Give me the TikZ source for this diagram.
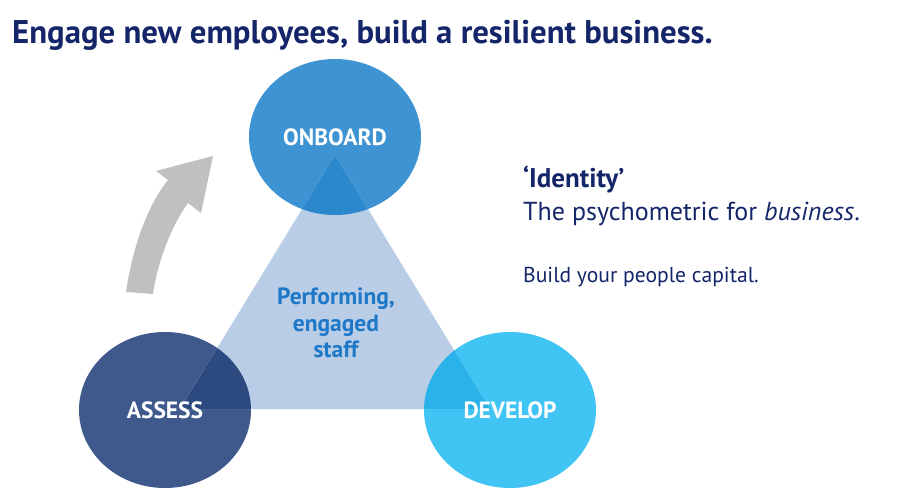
\documentclass[tikz,border=0pt]{standalone}
\usepackage{fontspec}
\setmainfont{PT Sans}
\usetikzlibrary{shapes.geometric}
\definecolor{navy}{RGB}{20,38,105}
\definecolor{onbblue}{RGB}{62,148,210}
\definecolor{onbdark}{RGB}{43,136,204}
\definecolor{assblue}{RGB}{63,89,140}
\definecolor{assdark}{RGB}{44,73,128}
\definecolor{devblue}{RGB}{64,196,243}
\definecolor{devdark}{RGB}{42,179,234}
\definecolor{triblue}{RGB}{185,205,230}
\definecolor{staffblue}{RGB}{30,120,200}
\definecolor{arrowgray}{RGB}{192,192,192}

\begin{document}
\begin{tikzpicture}[x=1pt,y=-1pt,
    phase/.style={ellipse,minimum width=172pt,minimum height=156pt,inner sep=0pt},
    phaselabel/.style={text=white,font=\fontsize{23.5}{26}\selectfont\bfseries},
    every node/.style={inner sep=0pt}
  ]
  \useasboundingbox (0,0) rectangle (900,500);
  \fill[white] (0,0) rectangle (900,500);

  \node[anchor=base west,text=navy,font=\fontsize{32.8}{36}\selectfont\bfseries] (title) at (12,44)
    {Engage new employees, build a resilient business.};

  % curved arrow
  \fill[arrowgray] (126,292) .. controls (133,245) and (148,205) .. (168,180)
    -- (156,171) -- (213,156) -- (201,213) -- (188,203)
    .. controls (172,225) and (158,260) .. (153,294) -- cycle;

  \coordinate (apex) at (335,155);
  \coordinate (baseL) at (180,409);
  \coordinate (baseR) at (490,409);

  \node[phase,fill=onbblue] (onboard) at (335,137) {};
  \node[phase,fill=assblue] (assess) at (165,410) {};
  \node[phase,fill=devblue] (develop) at (510,410) {};

  \fill[triblue] (apex) -- (baseL) -- (baseR) -- cycle;
  \foreach \c/\col in {onboard/onbdark,assess/assdark,develop/devdark}{
    \begin{scope}
      \clip (apex) -- (baseL) -- (baseR) -- cycle;
      \fill[\col] (\c.center) ellipse [x radius=86pt,y radius=78pt];
    \end{scope}
  }

  \node[phaselabel] at (onboard) {ONBOARD};
  \node[phaselabel] at (assess) {ASSESS};
  \node[phaselabel] at (develop) {DEVELOP};

  \node[align=center,text=staffblue,font=\fontsize{23.5}{26.5}\selectfont\bfseries] (staff) at (336,323)
    {Performing,\\engaged\\staff};

  \node[anchor=base west,text=navy,font=\fontsize{27}{30}\selectfont\bfseries] (brand) at (523,188) {‘Identity’};
  \node[anchor=base west,text=navy,font=\fontsize{26}{30}\selectfont] (tagline) at (523,220)
    {The psychometric for \textit{business}.};
  \node[anchor=base west,text=navy,font=\fontsize{21.6}{26}\selectfont] (claim) at (523,282)
    {Build your people capital.};
\end{tikzpicture}
\end{document}
